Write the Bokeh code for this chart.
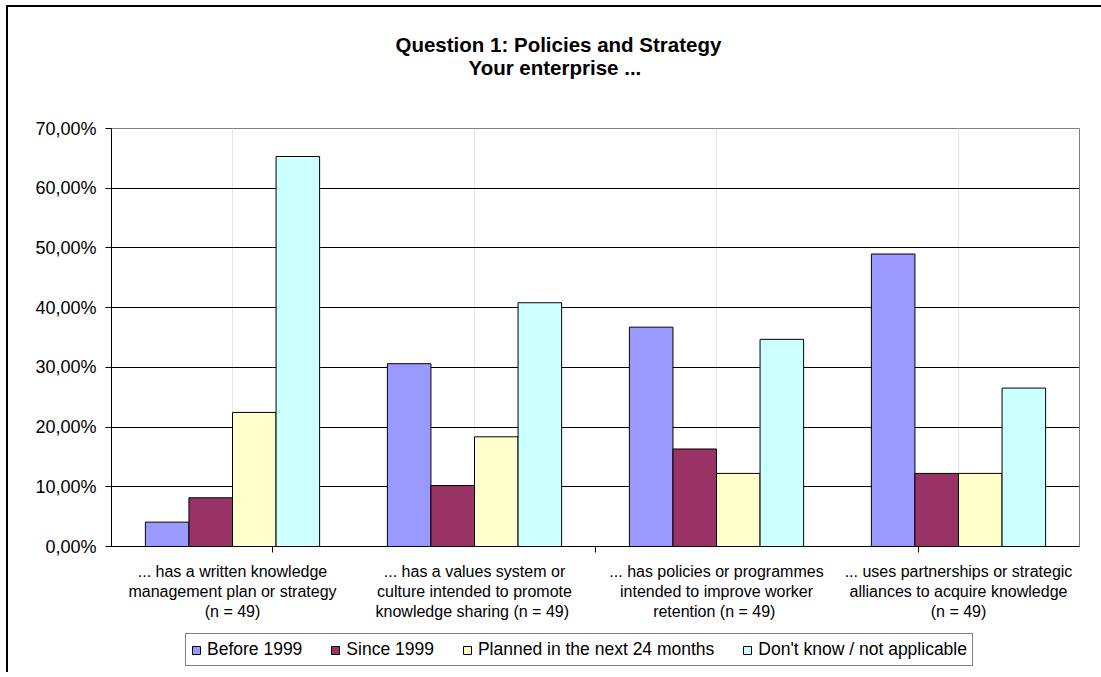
from bokeh.plotting import figure
from bokeh.layouts import column
from bokeh.models import (FactorRange, Range1d, LinearAxis, CategoricalAxis, FixedTicker,
                          ColumnDataSource, Legend, LegendItem, Title, Grid)
from bokeh.transform import dodge
from bokeh.embed import file_html
from bokeh.resources import INLINE

categories = [
    "... has a written knowledge\nmanagement plan or strategy\n(n = 49)",
    "... has a values system or\nculture intended to promote\nknowledge sharing  (n = 49)",
    "... has policies or programmes\nintended to improve worker\nretention  (n = 49)",
    "... uses partnerships or strategic\nalliances to acquire knowledge\n(n = 49)",
]
series_names = ["Before 1999", "Since 1999", "Planned in the next 24 months", "Don't know / not applicable"]
before_1999 = [4.08, 30.61, 36.73, 48.98]
since_1999 = [8.16, 10.20, 16.33, 12.24]
planned_24m = [22.45, 18.37, 12.24, 12.24]
dont_know = [65.31, 40.82, 34.69, 26.53]
y_ticks = [0, 10, 20, 30, 40, 50, 60, 70]
y_tick_labels = ["0,00%", "10,00%", "20,00%", "30,00%", "40,00%", "50,00%", "60,00%", "70,00%"]
title_lines = ["Question 1: Policies and Strategy", "Your enterprise ..."]

colors = ["#9999FF", "#993366", "#FFFFCC", "#CCFFFF"]
FONT = "Liberation Sans"

source = ColumnDataSource(data=dict(cat=categories, s0=before_1999, s1=since_1999,
                                    s2=planned_24m, s3=dont_know))

W = 1101
H_MAIN = 630
H_LEG = 42
p = figure(width=W, height=H_MAIN,
           x_range=FactorRange(factors=categories, range_padding=0),
           y_range=Range1d(0, 70),
           output_backend="svg", toolbar_location=None,
           x_axis_location=None, y_axis_location=None,
           min_border_left=111, min_border_right=22,
           min_border_top=128, min_border_bottom=H_MAIN - 546)
p.outline_line_color = "#808080"
p.outline_line_width = 1
p.background_fill_color = "white"
p.border_fill_alpha = 0

# grid
grid = Grid(dimension=1, ticker=FixedTicker(ticks=y_ticks[1:-1]),
            grid_line_color="#000000", grid_line_width=1)
p.add_layout(grid, "center")

# y axis
yaxis = LinearAxis(ticker=FixedTicker(ticks=y_ticks),
                   major_label_overrides={t: l for t, l in zip(y_ticks, y_tick_labels)})
yaxis.axis_line_color = "black"
yaxis.major_tick_out = 6
yaxis.major_tick_in = 0
yaxis.minor_tick_line_color = None
yaxis.major_label_standoff = 9
yaxis.major_label_text_font = FONT
yaxis.major_label_text_font_size = "18px"
yaxis.major_label_text_color = "black"
p.add_layout(yaxis, "left")

# x boundary ticks axis: factors centred on the category boundaries (no labels drawn)
edge_factors = [f"e{i}" for i in range(len(categories) + 1)]
p.extra_x_ranges = {"edges": FactorRange(factors=edge_factors, range_padding=-1,
                                         range_padding_units="absolute")}
edge_axis = CategoricalAxis(x_range_name="edges")
edge_axis.axis_line_color = "black"
edge_axis.major_tick_out = 6
edge_axis.major_tick_in = 0
edge_axis.minor_tick_line_color = None
edge_axis.major_label_standoff = 0
edge_axis.major_label_text_font_size = "1px"
edge_axis.major_label_text_color = None
p.add_layout(edge_axis, "below")

# category labels axis
xaxis = CategoricalAxis()
xaxis.axis_line_color = None
xaxis.major_tick_line_color = None
xaxis.minor_tick_line_color = None
xaxis.major_label_standoff = 4
xaxis.major_label_text_font = FONT
xaxis.major_label_text_font_size = "16px"
xaxis.major_label_text_line_height = 1.2
xaxis.major_label_text_color = "black"
p.add_layout(xaxis, "below")

offsets = [-0.27, -0.09, 0.09, 0.27]
for i, (off, col) in enumerate(zip(offsets, colors)):
    p.vbar(x=dodge("cat", off, range=p.x_range), top=f"s{i}", width=0.18,
           source=source, fill_color=col, line_color="black", line_width=1)

# invisible spacer between the plot area and the title
spacer = CategoricalAxis(x_range_name="edges")
spacer.axis_line_color = None
spacer.major_tick_line_color = None
spacer.minor_tick_line_color = None
spacer.major_tick_out = 51
spacer.major_tick_in = 0
spacer.major_label_standoff = 0
spacer.major_label_text_font_size = "1px"
spacer.major_label_text_color = None
p.add_layout(spacer, "above")

# titles (second line closest to the plot)
for txt, off in zip(reversed(title_lines), [357, 284]):
    p.add_layout(Title(text=txt, align="left", offset=off, standoff=-2,
                       text_font=FONT, text_font_style="bold", text_font_size="20.5px",
                       text_color="black"), "above")

# legend strip below the chart
lf = figure(width=W, height=H_LEG, x_range=Range1d(0, 1), y_range=Range1d(0, 1),
            output_backend="svg", toolbar_location=None,
            x_axis_location=None, y_axis_location=None,
            min_border_left=0, min_border_right=0, min_border_top=0, min_border_bottom=0)
lf.outline_line_color = None
lf.background_fill_alpha = 0
lf.border_fill_alpha = 0
lf.xgrid.visible = False
lf.ygrid.visible = False
# legend swatches only: the single bar has no position, so it is not drawn
legend_renderers = [lf.vbar(x=[float("nan")], top=[1], width=0.1, fill_color=c,
                            line_color="black", line_width=1) for c in colors]
legend = Legend(items=[LegendItem(label=n, renderers=[r])
                       for n, r in zip(series_names, legend_renderers)],
                orientation="horizontal", location=(74, H_LEG - 36))
legend.border_line_color = "black"
legend.border_line_width = 1
legend.background_fill_color = "white"
legend.background_fill_alpha = 1
legend.padding = 5
legend.spacing = 28
legend.margin = 0
legend.glyph_width = 10
legend.glyph_height = 10
legend.label_standoff = 6
legend.label_height = 9
legend.label_text_font = FONT
legend.label_text_font_size = "17.5px"
legend.label_text_color = "black"
lf.add_layout(legend, "center")

layout = column(p, lf, spacing=0, styles={
    "background-color": "white",
    "background-image": "linear-gradient(#000, #000), linear-gradient(#000, #000)",
    "background-size": "3000px 2px, 2px 3000px",
    "background-position": "6px 5px, 6px 5px",
    "background-repeat": "no-repeat",
})

open("out.html", "w").write(file_html(layout, INLINE))
